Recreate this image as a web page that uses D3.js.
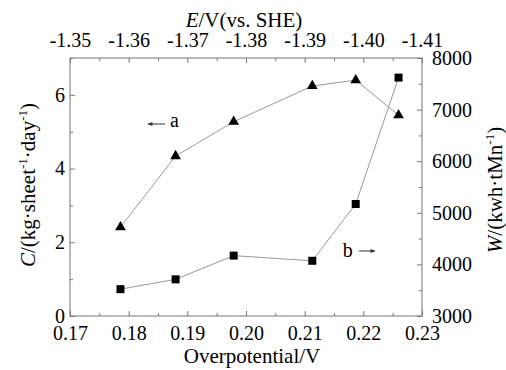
<!DOCTYPE html>
<html>
<head>
<meta charset="utf-8">
<script src="https://cdn.jsdelivr.net/npm/d3@7"></script>
<style>
  body { margin: 0; background: #fff; }
  svg text { font-family: "Liberation Serif", "Times New Roman", serif; fill: #000; }
</style>
</head>
<body>
<figure id="chart" style="margin:0"></figure>
<script>
// data
const overpotential = [0.1786, 0.1880, 0.1979, 0.2113, 0.2187, 0.2260];
const capacity = [2.41, 4.34, 5.27, 6.24, 6.40, 5.45];      // C, left axis (a)
const energy = [3520, 3710, 4170, 4070, 5170, 7620];         // W, right axis (b)
const bottomTicks = [0.17, 0.18, 0.19, 0.20, 0.21, 0.22, 0.23];
const topTicks = [-1.35, -1.36, -1.37, -1.38, -1.39, -1.40, -1.41];
const leftTicks = [0, 2, 4, 6];
const rightTicks = [3000, 4000, 5000, 6000, 7000, 8000];

const W = 506, H = 370;
const margin = { top: 58, right: 84, bottom: 54, left: 70 };
const width = W - margin.left - margin.right;
const height = H - margin.top - margin.bottom;
const serif = '"Liberation Serif", "Times New Roman", serif';

const svg = d3.select("#chart").append("svg")
  .attr("width", W)
  .attr("height", H);
const g = svg.append("g")
  .attr("transform", "translate(" + margin.left + "," + margin.top + ")");

const x = d3.scaleLinear().domain([0.17, 0.23]).range([0, width]);
const xTop = d3.scaleLinear().domain([-1.35, -1.41]).range([0, width]);
const yL = d3.scaleLinear().domain([0, 7]).range([height, 0]);
const yR = d3.scaleLinear().domain([3000, 8000]).range([height, 0]);

const axisColor = "#777";
const fs = "20px";

function styleAxis(sel) {
  sel.attr("font-family", serif).attr("font-size", fs);
  sel.select(".domain").remove();
  sel.selectAll("line").attr("stroke", axisColor);
  sel.selectAll("text").style("font-family", serif).style("font-size", fs).attr("fill", "#000");
}

// minor ticks first
const minorX = d3.range(0.175, 0.23, 0.01);
const minorTop = d3.range(-1.355, -1.41, -0.01);
g.append("g").attr("transform", "translate(0," + height + ")")
  .call(d3.axisBottom(x).tickValues(minorX).tickSize(-3).tickFormat("")).call(styleAxis);
g.append("g")
  .call(d3.axisTop(xTop).tickValues(minorTop).tickSize(-3).tickFormat("")).call(styleAxis);
g.append("g")
  .call(d3.axisLeft(yL).tickValues([1, 3, 5, 7]).tickSize(-3).tickFormat("")).call(styleAxis);
g.append("g").attr("transform", "translate(" + width + ",0)")
  .call(d3.axisRight(yR).tickValues([3500, 4500, 5500, 6500, 7500]).tickSize(-3).tickFormat("")).call(styleAxis);

// major ticks
g.append("g").attr("transform", "translate(0," + height + ")")
  .call(d3.axisBottom(x).tickValues(bottomTicks).tickSize(-5).tickPadding(10).tickFormat(d3.format(".2f")))
  .call(styleAxis);
g.append("g")
  .call(d3.axisTop(xTop).tickValues(topTicks).tickSize(-5).tickPadding(11).tickFormat(d => d.toFixed(2)))
  .call(styleAxis);
g.append("g")
  .call(d3.axisLeft(yL).tickValues(leftTicks).tickSize(-5).tickPadding(5).tickFormat(d3.format("d")))
  .call(styleAxis);
g.append("g").attr("transform", "translate(" + width + ",0)")
  .call(d3.axisRight(yR).tickValues(rightTicks).tickSize(-5).tickPadding(10).tickFormat(d3.format("d")))
  .call(styleAxis);

// frame
g.append("rect")
  .attr("width", width).attr("height", height)
  .attr("fill", "none").attr("stroke", axisColor).attr("stroke-width", 1);

// series lines
const lineA = d3.line().x((d, i) => x(overpotential[i])).y(d => yL(d));
const lineB = d3.line().x((d, i) => x(overpotential[i])).y(d => yR(d));
g.append("path").datum(capacity).attr("d", lineA)
  .attr("fill", "none").attr("stroke", "#999").attr("stroke-width", 1);
g.append("path").datum(energy).attr("d", lineB)
  .attr("fill", "none").attr("stroke", "#999").attr("stroke-width", 1);

// markers
g.selectAll(".tri").data(capacity).enter().append("path")
  .attr("d", d3.symbol().type(d3.symbolTriangle).size(50))
  .attr("transform", (d, i) => "translate(" + x(overpotential[i]) + "," + yL(d) + ")")
  .attr("fill", "#000");
g.selectAll(".sq").data(energy).enter().append("path")
  .attr("d", d3.symbol().type(d3.symbolSquare).size(64))
  .attr("transform", (d, i) => "translate(" + x(overpotential[i]) + "," + yR(d) + ")")
  .attr("fill", "#000");

// annotation arrows a (left) and b (right)
const defs = svg.append("defs");
defs.append("marker").attr("id", "head")
  .attr("viewBox", "0 0 10 10").attr("refX", 9).attr("refY", 5)
  .attr("markerWidth", 6).attr("markerHeight", 5).attr("orient", "auto")
  .append("path").attr("d", "M0,1L10,5L0,9Z").attr("fill", "#333");

g.append("line")
  .attr("x1", x(0.18619)).attr("y1", yL(5.21)).attr("x2", x(0.18329)).attr("y2", yL(5.21))
  .attr("stroke", "#333").attr("stroke-width", 1).attr("marker-end", "url(#head)");
g.append("text").attr("x", x(0.18705)).attr("y", yL(5.13)).style("font-size", fs).text("a");

g.append("line")
  .attr("x1", x(0.21926)).attr("y1", yR(4260)).attr("x2", x(0.22199)).attr("y2", yR(4260))
  .attr("stroke", "#333").attr("stroke-width", 1).attr("marker-end", "url(#head)");
g.append("text").attr("x", x(0.21648)).attr("y", yR(4149)).style("font-size", fs).text("b");

// axis titles
const tfs = "21px";
svg.append("text").attr("x", 252).attr("y", 363).attr("text-anchor", "middle")
  .style("font-size", tfs).text("Overpotential/V");

const topTitle = svg.append("text").attr("x", 244).attr("y", 27).attr("text-anchor", "middle")
  .style("font-size", tfs);
topTitle.append("tspan").style("font-style", "italic").text("E");
topTitle.append("tspan").text("/V(vs. SHE)");

const leftTitle = svg.append("text")
  .attr("transform", "translate(35,185) rotate(-90)")
  .attr("text-anchor", "middle").style("font-size", tfs);
leftTitle.append("tspan").style("font-style", "italic").text("C");
leftTitle.append("tspan").text("/(kg·sheet");
leftTitle.append("tspan").attr("dy", -8).style("font-size", "13px").text("-1");
leftTitle.append("tspan").attr("dy", 8).text("·day");
leftTitle.append("tspan").attr("dy", -8).style("font-size", "13px").text("-1");
leftTitle.append("tspan").attr("dy", 8).text(")");

const rightTitle = svg.append("text")
  .attr("transform", "translate(502,190) rotate(-90)")
  .attr("text-anchor", "middle").style("font-size", tfs);
rightTitle.append("tspan").style("font-style", "italic").text("W");
rightTitle.append("tspan").text("/(kwh·tMn");
rightTitle.append("tspan").attr("dy", -8).style("font-size", "13px").text("-1");
rightTitle.append("tspan").attr("dy", 8).text(")");
</script>
</body>
</html>
